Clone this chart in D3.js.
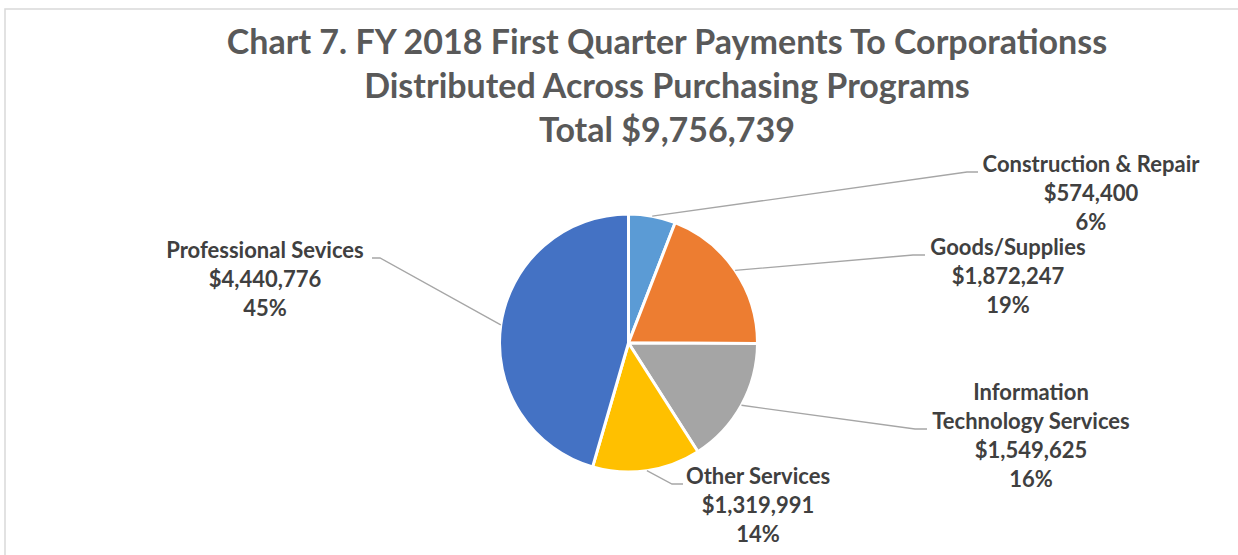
<!DOCTYPE html>
<html>
<head>
<meta charset="utf-8">
<script src="https://cdn.jsdelivr.net/npm/d3@7"></script>
<style>
  body { margin: 0; background: #fff; }
  svg { display: block; }
</style>
</head>
<body>
<script>
// data
const categories = ["Construction & Repair", "Goods/Supplies", "Information Technology Services", "Other Services", "Professional Sevices"];
const payments = [574400, 1872247, 1549625, 1319991, 4440776];
const percents = ["6%", "19%", "16%", "14%", "45%"];
const colors = ["#5B9BD5", "#ED7D31", "#A5A5A5", "#FFC000", "#4472C4"];
const titleLines = ["Chart 7. FY 2018 First Quarter Payments To Corporationss",
                    "Distributed Across Purchasing Programs",
                    "Total $9,756,739"];

// label placement (layout only)
const labelLines = [
    ["Construction & Repair"],
    ["Goods/Supplies"],
    ["Information", "Technology Services"],
    ["Other Services"],
    ["Professional Sevices"]
];
const labelLayout = [
    {x: 1091, y: 172, elbow: [967, 172], end: [978, 172]},
    {x: 1008, y: 255, elbow: [913, 255], end: [925, 255]},
    {x: 1031, y: 400, elbow: [915, 429], end: [927, 429]},
    {x: 758,  y: 484, elbow: [672, 484], end: [683, 484]},
    {x: 265,  y: 258, elbow: [380, 258], end: [372, 258]}
];

const canvWidth = 1238, canvHeight = 555;
const cx = 628.5, cy = 343, radius = 129;

const svg = d3.select("body").append("svg")
    .attr("width", canvWidth)
    .attr("height", canvHeight);

// chart frame (only top and left edge visible)
svg.append("path")
    .attr("d", "M5,555 L5,9 L1238,9")
    .attr("fill", "none")
    .attr("stroke", "#d9d9d9")
    .attr("stroke-width", 1.5);

// title
svg.append("g").selectAll("text")
    .data(titleLines)
    .enter().append("text")
    .attr("x", 667)
    .attr("y", (d, i) => 54 + i * 44)
    .attr("text-anchor", "middle")
    .attr("font-family", "Lato, sans-serif")
    .attr("font-weight", "bold")
    .attr("font-size", "34px")
    .attr("fill", "#595959")
    .text(d => d);

const pie = d3.pie().sort(null).value(d => d);
const arcs = pie(payments);
const arc = d3.arc().innerRadius(0).outerRadius(radius);

const g = svg.append("g")
    .attr("transform", "translate(" + cx + "," + cy + ")");

g.selectAll("path.slice")
    .data(arcs)
    .enter().append("path")
    .attr("class", "slice")
    .attr("d", arc)
    .attr("fill", (d, i) => colors[i])
    .attr("stroke", "#fff")
    .attr("stroke-width", 3)
    .attr("stroke-linejoin", "round");

// leader lines
const fmt = d3.format("$,");
svg.append("g").selectAll("polyline")
    .data(arcs)
    .enter().append("polyline")
    .attr("points", function(d, i) {
        const a = (d.startAngle + d.endAngle) / 2;
        const sx = cx + radius * Math.sin(a), sy = cy - radius * Math.cos(a);
        const l = labelLayout[i];
        return [[sx, sy], l.elbow, l.end].map(p => p.join(",")).join(" ");
    })
    .attr("fill", "none")
    .attr("stroke", "#a6a6a6")
    .attr("stroke-width", 1.3);

// data labels
const labels = svg.append("g").selectAll("text")
    .data(arcs)
    .enter().append("text")
    .attr("text-anchor", "middle")
    .attr("font-family", "Lato, sans-serif")
    .attr("font-weight", "bold")
    .attr("font-size", "22px")
    .attr("fill", "#404040");

labels.each(function(d, i) {
    const lines = labelLines[i].concat([fmt(payments[i]), percents[i]]);
    const l = labelLayout[i];
    d3.select(this).selectAll("tspan")
        .data(lines)
        .enter().append("tspan")
        .attr("x", l.x)
        .attr("y", (t, j) => l.y + j * 29)
        .text(t => t);
});
</script>
</body>
</html>
